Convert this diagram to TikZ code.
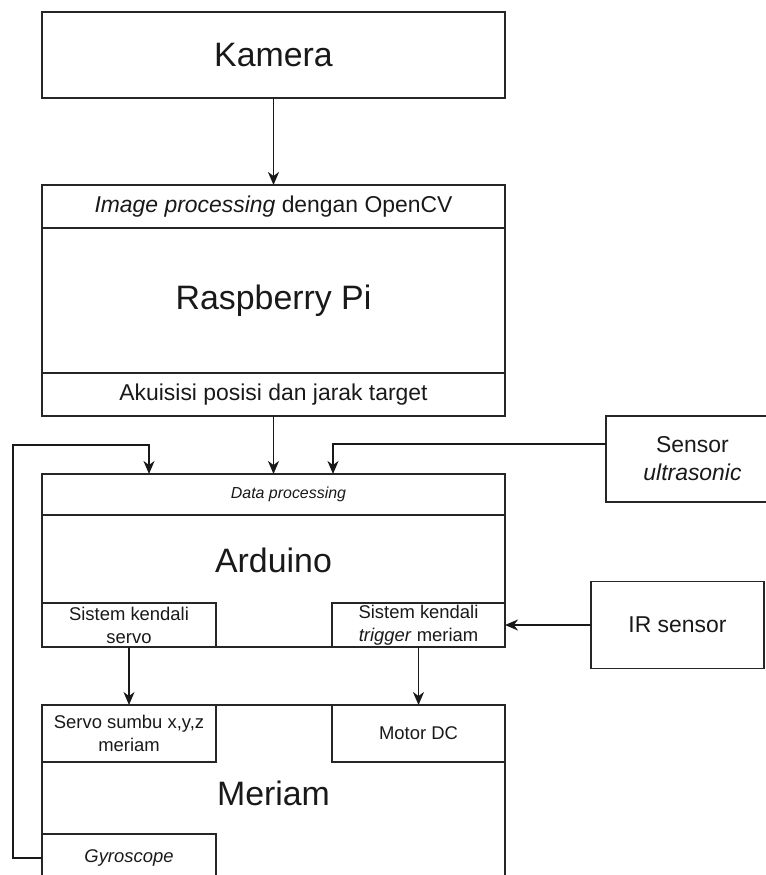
\documentclass[tikz,border=0pt]{standalone}
\usepackage{fontspec}
\setmainfont{Liberation Sans}
\usepackage{tikz}
\usetikzlibrary{arrows.meta}
\tikzset{%
  blok/.style   = {shape=rectangle, draw=black!85, line width=1.6bp,%
                   align=center, inner sep=0pt, outer sep=0pt, text=black!90},%
  besar/.style  = {blok, font=\fontsize{34}{40}\selectfont},%
  sedang/.style = {blok, font=\fontsize{23}{28}\selectfont},%
  kecil/.style  = {blok, font=\fontsize{18.5}{23}\selectfont},%
  panah/.style  = {draw=black!90, line width=1.6bp,%
                   -{Stealth[length=13bp,width=11bp,inset=4bp]}}%
}

\begin{document}
\begin{tikzpicture}[x=1bp, y=-1bp]%
	\useasboundingbox (0,0) rectangle (766,875);
	\clip (0,0) rectangle (766,875);
	% kamera dan raspberry
	\node [besar, minimum width=463bp, minimum height=86bp] (kamera) at (273.5,55) {Kamera};
	\node [besar, minimum width=463bp, minimum height=231bp] (rpi) at (273.5,300.5) {Raspberry Pi};
	\node [sedang, minimum width=463bp, minimum height=43bp, anchor=north] (rpiatas) at (rpi.north) {\textit{Image processing} dengan OpenCV};
	\node [sedang, minimum width=463bp, minimum height=43bp, anchor=south] (rpibawah) at (rpi.south) {Akuisisi posisi dan jarak target};
	% arduino
	\node [besar, minimum width=463bp, minimum height=173bp] (ard) at (273.5,560.5) {Arduino};
	\node [blok, font=\fontsize{16}{20}\selectfont\itshape, minimum width=463bp, minimum height=41bp, anchor=north] (ardatas) at (ard.north) {\hspace*{30bp}Data processing};
	\node [kecil, minimum width=174bp, minimum height=44bp, anchor=south west] (kendaliservo) at (ard.south west) {Sistem kendali\\servo};
	\node [kecil, minimum width=173bp, minimum height=44bp, anchor=south east] (kendalitrigger) at (ard.south east) {Sistem kendali\\\textit{trigger} meriam};
	% meriam
	\node [besar, minimum width=463bp, minimum height=177bp] (meriam) at (273.5,793.5) {Meriam};
	\node [kecil, minimum width=174bp, minimum height=57bp, anchor=north west] (servo) at (meriam.north west) {Servo sumbu x,y,z\\meriam};
	\node [kecil, minimum width=173bp, minimum height=57bp, anchor=north east] (motor) at (meriam.north east) {Motor DC};
	\node [kecil, minimum width=174bp, minimum height=48bp, anchor=south west] (gyro) at (meriam.south west) {\textit{Gyroscope}};
	% sensor
	\node [sedang, minimum width=173bp, minimum height=86bp] (ultra) at (692.5,459) {Sensor\\\textit{ultrasonic}};
	\node [sedang, minimum width=173bp, minimum height=87bp] (ir) at (677.5,625) {IR sensor};
	% panah
	\draw [panah] (kamera) -- (rpi);
	\draw [panah] (rpi) -- (ard);
	\draw [panah] ([yshift=15bp]ultra.west) -| ([xshift=59.5bp]ard.north);
	\draw [panah] (gyro.west) -- ++(-29,0) -- ++(0,-413) -| ([xshift=-124.5bp]ard.north);
	\draw [panah] (ir.west) -- (kendalitrigger.east);
	\draw [panah] (kendaliservo) -- (servo);
	\draw [panah] (kendalitrigger) -- (motor);
\end{tikzpicture}
\end{document}
